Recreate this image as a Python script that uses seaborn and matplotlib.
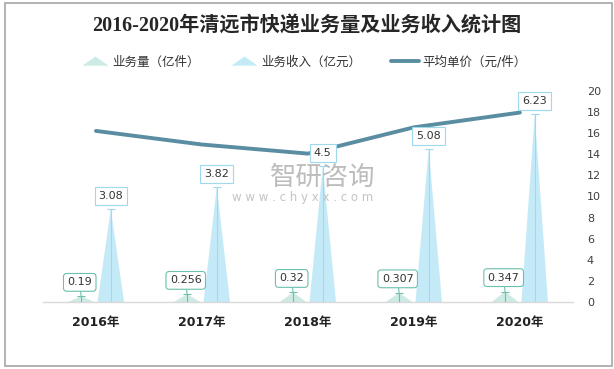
import matplotlib
matplotlib.use("Agg")
import matplotlib.pyplot as plt
import seaborn as sns
from matplotlib.lines import Line2D
from matplotlib.patches import Rectangle

years = ["2016年", "2017年", "2018年", "2019年", "2020年"]
volume = [0.19, 0.256, 0.32, 0.307, 0.347]      # 业务量（亿件）
revenue = [3.08, 3.82, 4.5, 5.08, 6.23]         # 业务收入（亿元）
price = [16.21, 14.92, 14.06, 16.55, 17.95]     # 平均单价（元/件）
vol_labels = ["0.19", "0.256", "0.32", "0.307", "0.347"]
rev_labels = ["3.08", "3.82", "4.5", "5.08", "6.23"]

sns.set_theme(style="white")
plt.rcParams["font.family"] = ["DejaVu Sans", "Noto Sans CJK SC"]

vol_fill = "#cdebe4"
vol_edge = "#6cc0ae"
rev_fill = "#c4eaf8"
rev_edge = "#9fd9ee"
line_col = "#5a8da1"

fig = plt.figure(figsize=(6.14, 3.69), dpi=100)
ax = fig.add_axes([0.07, 0.1816, 0.863, 0.572])
ax2 = ax.twinx()

pos = list(range(len(years)))
off = 0.14
w = 0.25

for i in pos:
    xv = i - off
    xr = i + off
    ax.fill([xv - w / 2, xv, xv + w / 2], [0, volume[i], 0], color=vol_fill, lw=0, zorder=2)
    ax.fill([xr - w / 2, xr, xr + w / 2], [0, revenue[i], 0], color=rev_fill, lw=0, zorder=2)
    ax.plot([xv, xv], [0, volume[i]], color=vol_edge, lw=0.8, zorder=3)
    ax.plot([xr, xr], [0, revenue[i]], color=rev_edge, lw=0.8, zorder=3)
    ax.plot([xv], [volume[i]], marker="_", ms=6, mew=0.8, color=vol_edge, zorder=3)
    ax.plot([xr], [revenue[i]], marker="_", ms=6, mew=0.8, color=rev_edge, zorder=3)

ax.set_xlim(-0.5, 4.5)
ax.set_ylim(0, 7)
ax.set_yticks([])
ax.set_xticks(pos)
ax.set_xticklabels(years, fontsize=9, fontweight="bold", color="#222222")
ax.tick_params(axis="x", length=0, pad=10)
for s in ["top", "left", "right"]:
    ax.spines[s].set_visible(False)
ax.spines["bottom"].set_color("#d9d9d9")
ax.spines["bottom"].set_linewidth(1)

sns.lineplot(x=pos, y=price, ax=ax2, color=line_col, lw=2.8, zorder=4)
ax2.set_ylim(0, 20)
ax2.set_yticks(range(0, 21, 2))
ax2.tick_params(axis="y", length=0, pad=10, labelsize=8, labelcolor="#404040")
for s in ["top", "left", "right", "bottom"]:
    ax2.spines[s].set_visible(False)

# data labels
for i in pos:
    ax2.annotate(rev_labels[i], xy=(i + off, revenue[i]), xycoords=ax.transData,
                 xytext=(0, 9.5), textcoords="offset points", ha="center", va="center",
                 fontsize=8, color="#333333", zorder=6,
                 bbox=dict(boxstyle="square,pad=0.35", fc="white", ec=rev_edge, lw=0.8))
    ax2.annotate(vol_labels[i], xy=(i - off, volume[i]), xycoords=ax.transData,
                 xytext=(-1, 10), textcoords="offset points", ha="center", va="center",
                 fontsize=8, color="#333333", zorder=6,
                 bbox=dict(boxstyle="round,pad=0.35,rounding_size=0.3", fc="white", ec=vol_edge, lw=0.8),
                 arrowprops=dict(arrowstyle="-", color=vol_edge, lw=0.8, shrinkA=0, shrinkB=0))

# watermark
fig.text(0.526, 0.52, "智研咨询", fontsize=19, color="#bcbcbc", ha="center", va="center",
         family=["Noto Sans CJK SC"], zorder=0)
fig.text(0.493, 0.466, "w w w . c h y x x . c o m", fontsize=8.5, color="#c4c4c4",
         ha="center", va="center", zorder=0)

fig.suptitle("2016-2020年清远市快递业务量及业务收入统计图", y=0.927, va="center",
             fontsize=14.5, fontweight="bold", color="#262626",
             family=["Liberation Serif", "Noto Sans CJK SC"])

tri = [(-1, -0.35), (0, 0.35), (1, -0.35)]
handles = [
    Line2D([], [], marker=tri, ls="none", ms=17, color=vol_fill, mec=vol_fill),
    Line2D([], [], marker=tri, ls="none", ms=17, color=rev_fill, mec=rev_fill),
    Line2D([], [], color=line_col, lw=2.8),
]
fig.legend(handles, ["业务量（亿件）", "业务收入（亿元）", "平均单价（元/件）"],
           loc="center", bbox_to_anchor=(0.495, 0.832), ncol=3, frameon=False,
           fontsize=9, handlelength=2.2, handletextpad=0.3, columnspacing=2.4,
           labelcolor="#333333")

fig.patches.append(Rectangle((0.008, 0.008), 0.9886, 0.984, transform=fig.transFigure,
                             fill=False, ec="#a6a6a6", lw=1.2))

fig.savefig("out.png", dpi=100)
